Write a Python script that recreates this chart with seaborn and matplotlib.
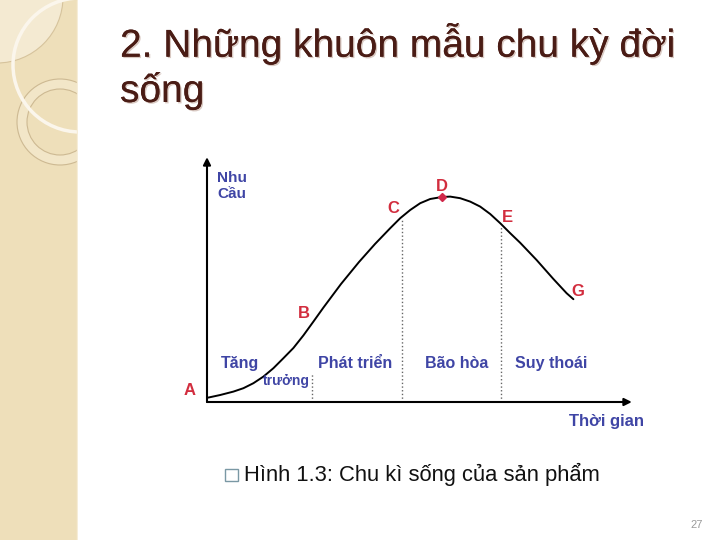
import numpy as np
import pandas as pd
import matplotlib
matplotlib.use("Agg")
import matplotlib.pyplot as plt
import matplotlib.patheffects as pe
from matplotlib.patches import Circle, Rectangle
import seaborn as sns

# ---------------- data ----------------
time_vals = [0.03, 0.33, 0.66, 0.91, 1.16, 1.41, 1.66, 1.91, 2.16, 2.41, 2.66, 2.91,
             3.35, 3.80, 4.20, 4.33, 4.58, 4.83, 5.08, 5.33, 5.58, 5.87, 6.08, 6.33,
             6.58, 6.83, 7.08, 7.33, 7.58, 7.83, 8.24, 8.66, 8.99, 9.16]
demand_vals = [0.22, 0.35, 0.52, 0.69, 0.94, 1.27, 1.69, 2.19, 2.70, 3.33, 4.02, 4.72,
               5.90, 7.00, 7.90, 8.17, 8.69, 9.19, 9.60, 9.94, 10.15, 10.25, 10.27, 10.19,
               10.02, 9.77, 9.40, 8.94, 8.44, 7.96, 7.10, 6.15, 5.44, 5.14]

point_letters = ["A", "B", "C", "D", "E", "G"]
letter_t = [-0.43, 2.43, 4.67, 5.87, 7.52, 9.26]
letter_d = [0.35, 4.22, 9.47, 10.57, 9.02, 5.32]

peak_t, peak_d = 5.87, 10.25

boundary_t = [2.62, 4.87, 7.36]
boundary_top = [1.45, 9.18, 8.80]

phase_names = ["Tăng", "Phát triển", "Bão hòa", "Suy thoái"]
phase_t = [0.83, 3.71, 6.24, 8.60]
phase_d = 1.70

title_line1 = "2. Những khuôn mẫu chu kỳ đời"
title_line2 = "sống"
caption = "Hình 1.3: Chu kì sống của sản phẩm"
y_label = ["Nhu", "Cầu"]
x_label = "Thời gian"
page_no = "27"

# ---------------- style ----------------
sns.set_theme(style="white")
plt.rcParams['font.family'] = ['Liberation Sans', 'DejaVu Sans']

W, H = 720, 540
fig = plt.figure(figsize=(7.2, 5.4), dpi=100)
fig.patch.set_facecolor("white")

# left decorative strip
sax = fig.add_axes([0, 0, 78 / W, 1])
sax.set_xlim(0, 78)
sax.set_ylim(540, 0)
sax.axis("off")
sax.add_patch(Rectangle((0, 0), 78, 540, color="#eedfba", zorder=0))
sax.add_patch(Circle((-3, -3), 66, fc="#f4ead2", ec="#d6c39c", lw=0.8, zorder=1))
sax.add_patch(Circle((60, 122), 43, fc="#f2e6c8", ec="#cdb992", lw=0.8, zorder=2))
sax.add_patch(Circle((60, 122), 33, fc="#eedfba", ec="#cdb992", lw=0.8, zorder=3))
sax.add_patch(Circle((80, 65), 67, fill=False, ec="#fbf6ec", lw=2.5, zorder=4))
sax.add_patch(Rectangle((76.5, 0), 1.5, 540, color="#f6edd8", zorder=5))

# title
shadow = [pe.withSimplePatchShadow(offset=(1, -1), shadow_rgbFace="#d9c9c2", alpha=1.0), pe.Normal()]
fig.text(120 / W, 1 - 56.7 / H, title_line1, fontsize=28, color="#4a1c15",
         ha="left", va="baseline", path_effects=shadow)
fig.text(120 / W, 1 - 102 / H, title_line2, fontsize=28, color="#4a1c15",
         ha="left", va="baseline", path_effects=shadow)

# chart
ax = fig.add_axes([178 / W, (H - 442) / H, 472 / W, 310 / H])
ax.set_xlim(-0.725, 11.075)
ax.set_ylim(-2.0, 13.5)
ax.axis("off")

df = pd.DataFrame({"t": time_vals, "d": demand_vals})
sns.lineplot(data=df, x="t", y="d", ax=ax, color="black", lw=1.4,
             sort=False, estimator=None, legend=False,
             solid_joinstyle="round", solid_capstyle="round")

ax.vlines(boundary_t, 0, boundary_top, colors="#666666", linestyles=":", lw=1.0)

arrow_kw = dict(arrowstyle="-|>", color="black", lw=1.5, mutation_scale=11,
                shrinkA=0, shrinkB=0)
ax.annotate("", xy=(0, 12.24), xytext=(0, 0), arrowprops=arrow_kw)
ax.annotate("", xy=(10.62, 0), xytext=(0, 0), arrowprops=arrow_kw)

ax.plot([peak_t], [peak_d], marker="D", ms=4, color="#d0284a", ls="none")

red = "#d22d3e"
blue = "#3f45a5"
for lab, t, d in zip(point_letters, letter_t, letter_d):
    ax.text(t, d, lab, color=red, fontsize=12, fontweight="bold",
            ha="center", va="baseline")

for lab, t in zip(phase_names, phase_t):
    ax.text(t, phase_d, lab, color=blue, fontsize=11.5, fontweight="bold",
            ha="center", va="baseline")
ax.text(1.98, 0.85, "trưởng", color=blue, fontsize=10, fontweight="bold",
        ha="center", va="baseline")

ax.text(0.25, 11.02, y_label[0], color=blue, fontsize=11, fontweight="bold",
        ha="left", va="baseline")
ax.text(0.25, 10.19, y_label[1], color=blue, fontsize=11, fontweight="bold",
        ha="left", va="baseline")
ax.text(9.99, -1.2, x_label, color=blue, fontsize=12, fontweight="bold",
        ha="center", va="baseline")

# caption
fig.add_artist(Rectangle((225 / W, 1 - 481 / H), 13 / W, 12 / H,
                         transform=fig.transFigure, fill=False, ec="#7a98a4", lw=1))
fig.text(244 / W, 1 - 480.7 / H, caption, fontsize=15.8, color="#111111",
         ha="left", va="baseline")

fig.text(697 / W, 1 - 528 / H, page_no, fontsize=8, color="#9a9a9a",
         ha="center", va="baseline")

fig.savefig("out.png", dpi=100)
